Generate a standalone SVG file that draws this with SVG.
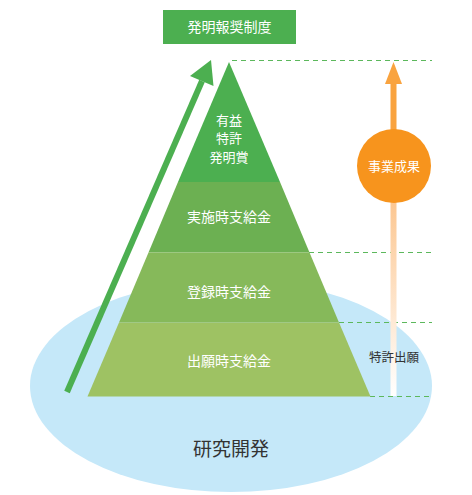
<svg xmlns="http://www.w3.org/2000/svg" width="472" height="495" viewBox="0 0 472 495">
<style>
text{font-family:"Noto Sans CJK JP","Noto Sans",sans-serif;text-anchor:middle}
.w{fill:#ffffff;font-size:14px}
.s{fill:#ffffff;font-size:13px}
.d{fill:#333333}
.dash{stroke:#5cb85c;stroke-width:1.2;stroke-dasharray:5 4;fill:none}
</style>
<defs>
<linearGradient id="og" x1="0" y1="0" x2="0" y2="1">
<stop offset="0" stop-color="#fcc690"/>
<stop offset="1" stop-color="#ffffff"/>
</linearGradient>
</defs>
<g id="rd">
<ellipse cx="231" cy="386" rx="201" ry="106" fill="#c5e8f9"/>
<text class="d" x="231" y="456" style="font-size:19px">研究開発</text>
</g>
<g id="connectors">
<line class="dash" x1="232" y1="60.5" x2="432" y2="60.5"/>
<line class="dash" x1="309" y1="252.5" x2="432" y2="252.5"/>
<line class="dash" x1="339" y1="322.5" x2="432" y2="322.5"/>
<line class="dash" x1="370" y1="396.5" x2="432" y2="396.5"/>
<line x1="67" y1="392" x2="202" y2="81" stroke="#4caf50" stroke-width="6"/>
<polygon points="211,60 213.5,86 190,76" fill="#4caf50"/>
<rect x="390.5" y="82" width="6" height="50" fill="#f9a33f"/>
<polygon points="393.5,62 402,84 385,84" fill="#f9a33f"/>
<rect x="390.5" y="200" width="6" height="196" fill="url(#og)"/>
</g>
<g id="title">
<rect x="163" y="10" width="133" height="34" fill="#4caf50"/>
<text class="w" x="229.5" y="32">発明報奨制度</text>
</g>
<g id="layer4">
<polygon points="229,62 280,182 178,182" fill="#4caf50"/>
<text class="s" x="229" y="124.5">有益</text>
<text class="s" x="229" y="143.3">特許</text>
<text class="s" x="229" y="162.1">発明賞</text>
</g>
<g id="layer3">
<polygon points="178,182 280,182 309.5,252.5 148.5,252.5" fill="#6cb052"/>
<text class="w" x="229" y="222">実施時支給金</text>
</g>
<g id="layer2">
<polygon points="148.5,252.5 309.5,252.5 339,322.5 119,322.5" fill="#86b95a"/>
<text class="w" x="229" y="297">登録時支給金</text>
</g>
<g id="layer1">
<polygon points="119,322.5 339,322.5 370.5,396.5 87.5,396.5" fill="#9ec263"/>
<text class="w" x="229" y="366">出願時支給金</text>
</g>
<g id="result">
<circle cx="394" cy="166" r="37" fill="#f7941d"/>
<text x="394" y="170.5" style="fill:#ffffff;font-size:13px">事業成果</text>
</g>
<g id="patent">
<text class="d" x="394" y="362" style="font-size:12.5px">特許出願</text>
</g>
</svg>
